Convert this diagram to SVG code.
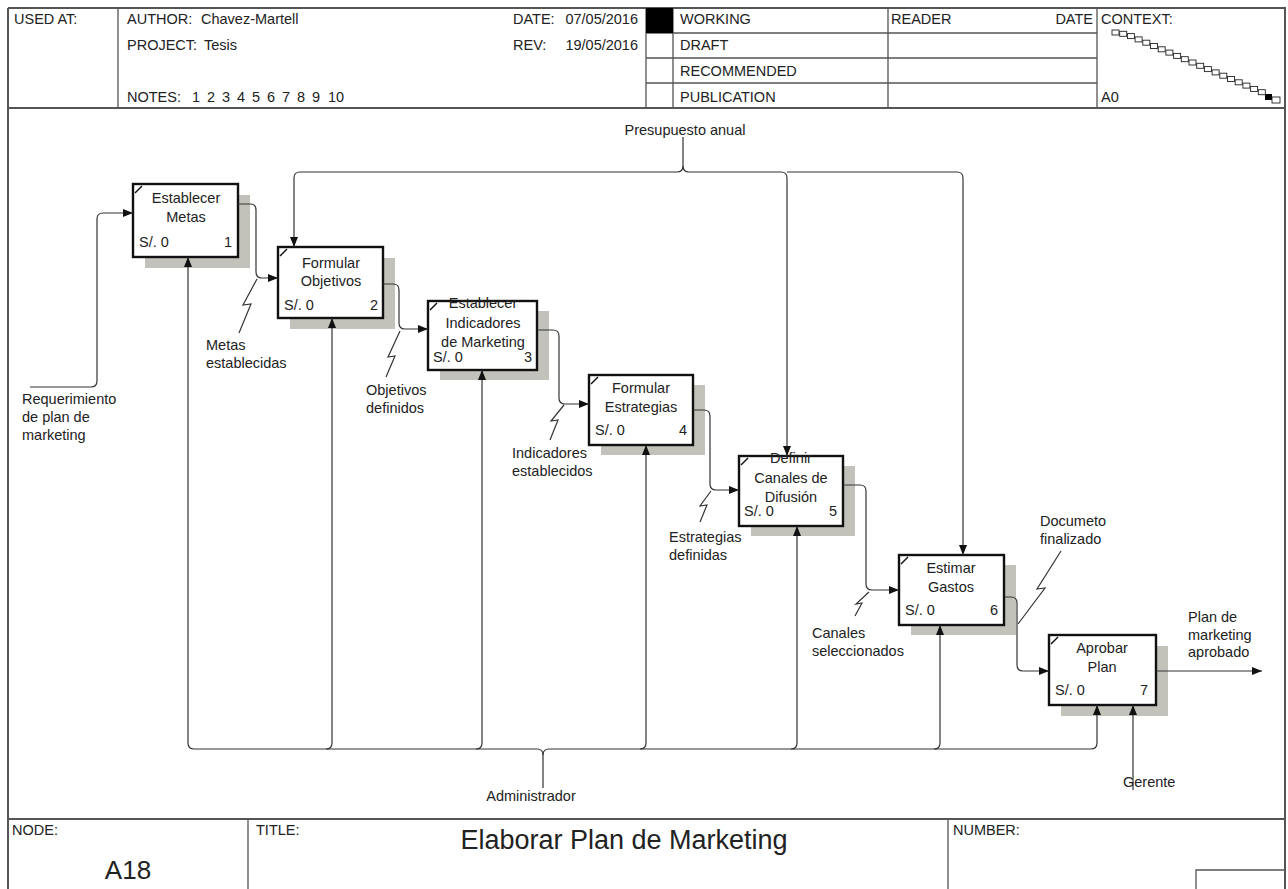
<svg xmlns="http://www.w3.org/2000/svg" width="1288" height="889" viewBox="0 0 1288 889">
  <style>
    text { font-family: "Liberation Sans", Arial, sans-serif; fill: #222; font-size: 14.5px; }
    text.node { font-size: 26px; }
    text.title { font-size: 27px; }
    .mid { text-anchor: middle; }
    .end { text-anchor: end; }
    .grid { stroke: #555; stroke-width: 1.3; fill: none; }
    .frame { stroke: #555; stroke-width: 2; fill: none; }
    .box { fill: #fff; stroke: #111; stroke-width: 2.4; }
    .shadow { fill: #c2c2ba; }
    .tick { stroke: #111; stroke-width: 1.5; }
    .arrow { stroke: #333; stroke-width: 1.2; fill: none; }
    .arrowed { marker-end: url(#ah); }
    .ctx { fill: #fff; stroke: #222; stroke-width: 0.9; }
  </style>
  <defs>
    <marker id="ah" viewBox="0 0 10 8" refX="10" refY="4" markerWidth="10" markerHeight="8" markerUnits="userSpaceOnUse" orient="auto">
      <path d="M0,0 L10,4 L0,8 Z" fill="#111"/>
    </marker>
  </defs>

  <rect x="0" y="0" width="1288" height="889" fill="#fff"/>

  <!-- header block -->
  <g id="header">
    <path class="frame" d="M8,8 H1285 V889 M8,8 V889"/>
    <line class="frame" x1="8" y1="108" x2="1285" y2="108"/>
    <path class="grid" d="M118,8 V108 M646,8 V108 M673,8 V108 M888,8 V108 M1097,8 V108"/>
    <path class="grid" d="M646,33 H1097 M646,58 H1097 M646,83 H1097"/>
    <rect x="646" y="8" width="27" height="25" fill="#000"/>
    <text x="14" y="24">USED AT:</text>
    <text x="127" y="24">AUTHOR:</text>
    <text x="201" y="24">Chavez-Martell</text>
    <text x="127" y="50">PROJECT:</text>
    <text x="204" y="50">Tesis</text>
    <text x="127" y="102">NOTES:<tspan x="192">1</tspan><tspan x="207">2</tspan><tspan x="222">3</tspan><tspan x="237">4</tspan><tspan x="252">5</tspan><tspan x="267">6</tspan><tspan x="282">7</tspan><tspan x="297">8</tspan><tspan x="312">9</tspan><tspan x="328">10</tspan></text>
    <text x="513" y="24">DATE:</text>
    <text class="end" x="638" y="24">07/05/2016</text>
    <text x="513" y="50">REV:</text>
    <text class="end" x="638" y="50">19/05/2016</text>
    <text x="680" y="24">WORKING</text>
    <text x="680" y="50">DRAFT</text>
    <text x="680" y="76">RECOMMENDED</text>
    <text x="680" y="102">PUBLICATION</text>
    <text x="891" y="24">READER</text>
    <text class="end" x="1093" y="24">DATE</text>
    <text x="1101" y="24">CONTEXT:</text>
    <text x="1101" y="102">A0</text>
    <!-- context chain of sibling activities -->
    <g id="context">
      <rect class="ctx" x="1112" y="30" width="7" height="5"/>
      <rect class="ctx" x="1119.7" y="31.3" width="7" height="5"/>
      <rect class="ctx" x="1127.4" y="33.6" width="7" height="5"/>
      <rect class="ctx" x="1135.1" y="36.9" width="7" height="5"/>
      <rect class="ctx" x="1142.8" y="40.2" width="7" height="5"/>
      <rect class="ctx" x="1150.5" y="43.5" width="7" height="5"/>
      <rect class="ctx" x="1158.2" y="46.8" width="7" height="5"/>
      <rect class="ctx" x="1165.9" y="50.1" width="7" height="5"/>
      <rect class="ctx" x="1173.6" y="53.4" width="7" height="5"/>
      <rect class="ctx" x="1181.3" y="56.7" width="7" height="5"/>
      <rect class="ctx" x="1189" y="60" width="7" height="5"/>
      <rect class="ctx" x="1196.7" y="63.3" width="7" height="5"/>
      <rect class="ctx" x="1204.4" y="66.6" width="7" height="5"/>
      <rect class="ctx" x="1212.1" y="69.9" width="7" height="5"/>
      <rect class="ctx" x="1219.8" y="73.2" width="7" height="5"/>
      <rect class="ctx" x="1227.5" y="76.5" width="7" height="5"/>
      <rect class="ctx" x="1235.2" y="79.8" width="7" height="5"/>
      <rect class="ctx" x="1242.9" y="83.1" width="7" height="5"/>
      <rect class="ctx" x="1250.6" y="86.4" width="7" height="5"/>
      <rect class="ctx" x="1258.3" y="89.7" width="7" height="5"/>
      <rect x="1265" y="94" width="7" height="6" fill="#000"/>
      <rect class="ctx" x="1272" y="97" width="8" height="6"/>
    </g>
  </g>

  <!-- activity boxes -->
  <g id="a1">
    <rect class="shadow" x="145" y="195" width="105" height="73"/>
    <rect class="box" x="133" y="184" width="105" height="73"/>
    <line class="tick" x1="135" y1="193" x2="142" y2="186"/>
    <text class="mid" x="186" y="203">Establecer</text>
    <text class="mid" x="186" y="222">Metas</text>
    <text x="139" y="247">S/. 0</text>
    <text class="end" x="232" y="247">1</text>
  </g>
  <g id="a2">
    <rect class="shadow" x="290" y="258" width="105" height="71"/>
    <rect class="box" x="278" y="247" width="105" height="71"/>
    <line class="tick" x1="280" y1="256" x2="287" y2="249"/>
    <text class="mid" x="331" y="268">Formular</text>
    <text class="mid" x="331" y="286">Objetivos</text>
    <text x="284" y="310">S/. 0</text>
    <text class="end" x="378" y="310">2</text>
  </g>
  <g id="a3">
    <rect class="shadow" x="440" y="311" width="109" height="69"/>
    <rect class="box" x="428" y="301" width="109" height="69"/>
    <line class="tick" x1="430" y1="310" x2="437" y2="303"/>
    <text class="mid" x="483" y="308">Establecer</text>
    <text class="mid" x="483" y="328">Indicadores</text>
    <text class="mid" x="483" y="347">de Marketing</text>
    <text x="433" y="362">S/. 0</text>
    <text class="end" x="532" y="362">3</text>
  </g>
  <g id="a4">
    <rect class="shadow" x="601" y="385" width="104" height="70"/>
    <rect class="box" x="589" y="375" width="104" height="70"/>
    <line class="tick" x1="591" y1="384" x2="598" y2="377"/>
    <text class="mid" x="641" y="393">Formular</text>
    <text class="mid" x="641" y="412">Estrategias</text>
    <text x="595" y="435">S/. 0</text>
    <text class="end" x="687" y="435">4</text>
  </g>
  <g id="a5">
    <rect class="shadow" x="751" y="466" width="104" height="70"/>
    <rect class="box" x="739" y="456" width="104" height="70"/>
    <line class="tick" x1="741" y1="465" x2="748" y2="458"/>
    <text class="mid" x="791" y="463">Definir</text>
    <text class="mid" x="791" y="483">Canales de</text>
    <text class="mid" x="791" y="502">Difusión</text>
    <text x="744" y="516">S/. 0</text>
    <text class="end" x="837" y="516">5</text>
  </g>
  <g id="a6">
    <rect class="shadow" x="911" y="565" width="105" height="70"/>
    <rect class="box" x="899" y="555" width="105" height="70"/>
    <line class="tick" x1="901" y1="564" x2="908" y2="557"/>
    <text class="mid" x="951" y="573">Estimar</text>
    <text class="mid" x="951" y="592">Gastos</text>
    <text x="905" y="615">S/. 0</text>
    <text class="end" x="998" y="615">6</text>
  </g>
  <g id="a7">
    <rect class="shadow" x="1061" y="646" width="107" height="70"/>
    <rect class="box" x="1049" y="635" width="107" height="70"/>
    <line class="tick" x1="1051" y1="644" x2="1058" y2="637"/>
    <text class="mid" x="1102" y="653">Aprobar</text>
    <text class="mid" x="1102" y="672">Plan</text>
    <text x="1055" y="695">S/. 0</text>
    <text class="end" x="1148" y="695">7</text>
  </g>

  <!-- connectors -->
  <g id="connectors">
    <!-- input -->
    <path class="arrow arrowed" d="M30,387 H91 Q97,387 97,381 V219 Q97,213 103,213 H133"/>
    <!-- activity outputs feeding the next activity -->
    <path class="arrow arrowed" d="M238,204 H250 Q256,204 256,210 V272 Q256,278 262,278 H278"/>
    <path class="arrow arrowed" d="M383,284 H393 Q399,284 399,290 V323 Q399,329 405,329 H428"/>
    <path class="arrow arrowed" d="M537,330 H553 Q559,330 559,336 V398 Q559,404 565,404 H589"/>
    <path class="arrow arrowed" d="M693,410 H704 Q710,410 710,416 V484 Q710,490 716,490 H739"/>
    <path class="arrow arrowed" d="M843,485 H860 Q866,485 866,491 V584 Q866,590 872,590 H899"/>
    <path class="arrow arrowed" d="M1005,597 H1011 Q1017,597 1017,603 V665 Q1017,671 1023,671 H1049"/>
    <path class="arrow arrowed" d="M1156,671 H1262"/>
    <!-- control -->
    <path class="arrow arrowed" d="M683,137 V166 Q683,172 677,172 H300 Q294,172 294,178 V247"/>
    <path class="arrow arrowed" d="M683,166 Q683,172 689,172 H781 Q787,172 787,178 V456"/>
    <path class="arrow arrowed" d="M787,172 H957 Q963,172 963,178 V555"/>
    <!-- mechanisms -->
    <path class="arrow arrowed" d="M543,788 V755 Q543,749 537,749 H194 Q188,749 188,743 V257"/>
    <path class="arrow arrowed" d="M543,755 Q543,749 549,749 H1091 Q1097,749 1097,743 V705"/>
    <path class="arrow arrowed" d="M326,749 Q332,749 332,743 V318"/>
    <path class="arrow arrowed" d="M476,749 Q482,749 482,743 V370"/>
    <path class="arrow arrowed" d="M640,749 Q646,749 646,743 V445"/>
    <path class="arrow arrowed" d="M791,749 Q797,749 797,743 V526"/>
    <path class="arrow arrowed" d="M934,749 Q940,749 940,743 V625"/>
    <path class="arrow arrowed" d="M1133,790 V705"/>
    <!-- label squiggles -->
    <path class="arrow" d="M239,333 L251,304 L243,305 L257,279"/>
    <path class="arrow" d="M386,377 L395,356 L388,357 L400,331"/>
    <path class="arrow" d="M550,440 L558,420 L551,421 L564,405"/>
    <path class="arrow" d="M700,522 L707,505 L700,506 L711,491"/>
    <path class="arrow" d="M855,616 L862,603 L856,604 L869,592"/>
    <path class="arrow" d="M1018,624 L1045,588 L1037,589 L1061,551"/>
  </g>

  <!-- arrow labels -->
  <g id="labels">
    <text x="22" y="404">Requerimiento</text>
    <text x="22" y="422">de plan de</text>
    <text x="22" y="440">marketing</text>
    <text x="206" y="350">Metas</text>
    <text x="206" y="368">establecidas</text>
    <text x="366" y="395">Objetivos</text>
    <text x="366" y="413">definidos</text>
    <text x="512" y="458">Indicadores</text>
    <text x="512" y="476">establecidos</text>
    <text x="669" y="542">Estrategias</text>
    <text x="669" y="560">definidas</text>
    <text x="812" y="638">Canales</text>
    <text x="812" y="656">seleccionados</text>
    <text x="1040" y="526">Documeto</text>
    <text x="1040" y="544">finalizado</text>
    <text x="1188" y="622">Plan de</text>
    <text x="1188" y="640">marketing</text>
    <text x="1188" y="657">aprobado</text>
    <text class="mid" x="685" y="135">Presupuesto anual</text>
    <text class="mid" x="531" y="801">Administrador</text>
    <text x="1123" y="787">Gerente</text>
  </g>

  <!-- footer block -->
  <g id="footer">
    <line class="frame" x1="8" y1="819" x2="1285" y2="819"/>
    <path class="grid" d="M248,819 V889 M948,819 V889"/>
    <path class="grid" d="M1196,889 V870 H1285"/>
    <text x="12" y="835">NODE:</text>
    <text class="node mid" x="128" y="879">A18</text>
    <text x="256" y="835">TITLE:</text>
    <text class="title mid" x="624" y="849">Elaborar Plan de Marketing</text>
    <text x="953" y="835">NUMBER:</text>
  </g>
</svg>
